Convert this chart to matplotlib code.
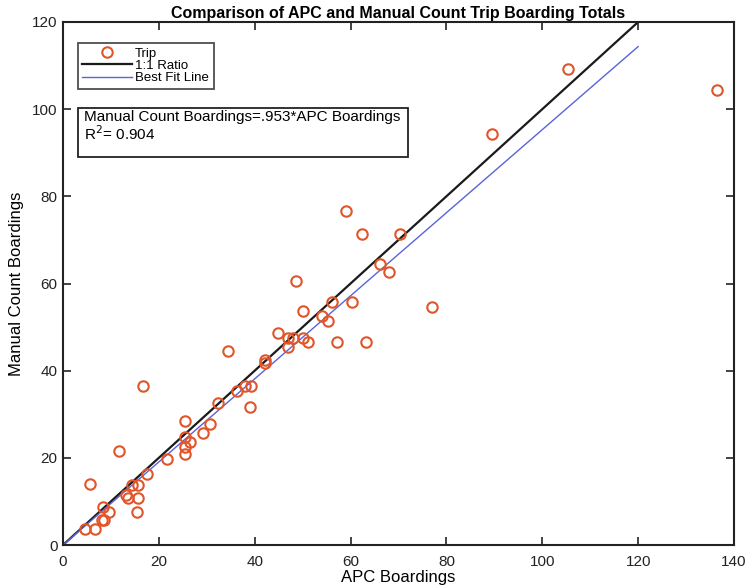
import matplotlib
matplotlib.use("Agg")
import matplotlib.pyplot as plt
from matplotlib.patches import Rectangle
import numpy as np

plt.rcParams['font.family'] = ['Liberation Sans', 'DejaVu Sans']

# Trip boarding totals: APC counter vs. manual count
apc_boardings = [
    59.0, 62.3, 70.4, 66.1, 68.0, 105.3, 136.5, 89.5,
    48.7, 77.0, 56.1, 60.3, 50.1, 54.0, 55.2, 44.9, 46.9, 47.9, 50.1, 51.2,
    46.9, 57.1, 63.2, 34.4, 42.2, 42.2,
    16.6, 36.3, 37.9, 39.3, 39.1, 32.4, 25.4, 30.6, 29.2, 25.4, 26.6, 25.4,
    25.4, 11.7, 21.7, 17.5, 5.7, 14.3, 15.7, 13.2, 13.6, 15.7, 15.5, 8.4,
    9.6, 8.2, 8.6, 4.7, 6.7,
]
manual_boardings = [
    76.7, 71.4, 71.4, 64.4, 62.6, 109.3, 104.4, 94.4,
    60.5, 54.5, 55.7, 55.7, 53.6, 52.6, 51.4, 48.7, 47.6, 47.6, 47.6, 46.6,
    45.5, 46.6, 46.6, 44.5, 42.4, 41.7,
    36.5, 35.4, 36.5, 36.5, 31.6, 32.6, 28.5, 27.8, 25.8, 24.7, 23.6, 22.5,
    20.8, 21.6, 19.7, 16.4, 13.9, 13.8, 13.8, 11.5, 10.7, 10.7, 7.5, 8.8,
    7.5, 5.7, 5.7, 3.7, 3.7,
]

line_x = [0, 120]
fit_slope = 0.953
r_squared = 0.904

x_ticks = [0, 20, 40, 60, 80, 100, 120, 140]
y_ticks = [0, 20, 40, 60, 80, 100, 120]

fig = plt.figure(figsize=(7.47, 5.88), dpi=100)
ax = fig.add_axes([0.0843, 0.0731, 0.8983, 0.8895])

line_x = np.array(line_x, dtype=float)
ax.plot(apc_boardings, manual_boardings, linestyle='none', marker='o',
        markersize=7.5, markerfacecolor='none', markeredgecolor='#e0562a',
        markeredgewidth=1.5, label='Trip', zorder=3)
ax.plot(line_x, line_x, color='#1a1a1a', linewidth=1.6, label='1:1 Ratio', zorder=2)
ax.plot(line_x, fit_slope * line_x, color='#5a63d8', linewidth=1.0,
        label='Best Fit Line', zorder=2)

ax.set_xlim(0, 140)
ax.set_ylim(0, 120)
ax.set_xticks(x_ticks)
ax.set_yticks(y_ticks)
ax.tick_params(direction='in', length=6, width=1.2, top=True, right=True,
               labelsize=11, colors='#222222')
ax.tick_params(axis='x', pad=7)
ax.tick_params(axis='y', pad=4)
for s in ax.spines.values():
    s.set_linewidth(1.5)
    s.set_color('#222222')

ax.set_title('Comparison of APC and Manual Count Trip Boarding Totals',
             fontsize=11.5, fontweight='bold', pad=3)
ax.set_xlabel('APC Boardings', fontsize=12, labelpad=1)
ax.set_ylabel('Manual Count Boardings', fontsize=12, labelpad=6)

leg = ax.legend(loc='upper left', bbox_to_anchor=(0.022, 0.960), fontsize=9.5,
                frameon=True, fancybox=False, borderpad=0.35, labelspacing=0.0,
                handlelength=3.8, handletextpad=0.2, borderaxespad=0)
leg.get_frame().set_edgecolor('#222222')
leg.get_frame().set_linewidth(1.3)

ax.add_patch(Rectangle((0.022, 0.742), 0.492, 0.094, transform=ax.transAxes,
                       fill=False, edgecolor='#222222', linewidth=1.3, zorder=4))
ax.text(0.031, 0.832,
        f'Manual Count Boardings={fit_slope:.3f}'.replace('0.', '.') +
        '*APC Boardings\n' + f'R$^2$= {r_squared:.3f}',
        transform=ax.transAxes, fontsize=11, va='top', ha='left',
        linespacing=1.05, zorder=5)

fig.savefig('out.png', dpi=100)
